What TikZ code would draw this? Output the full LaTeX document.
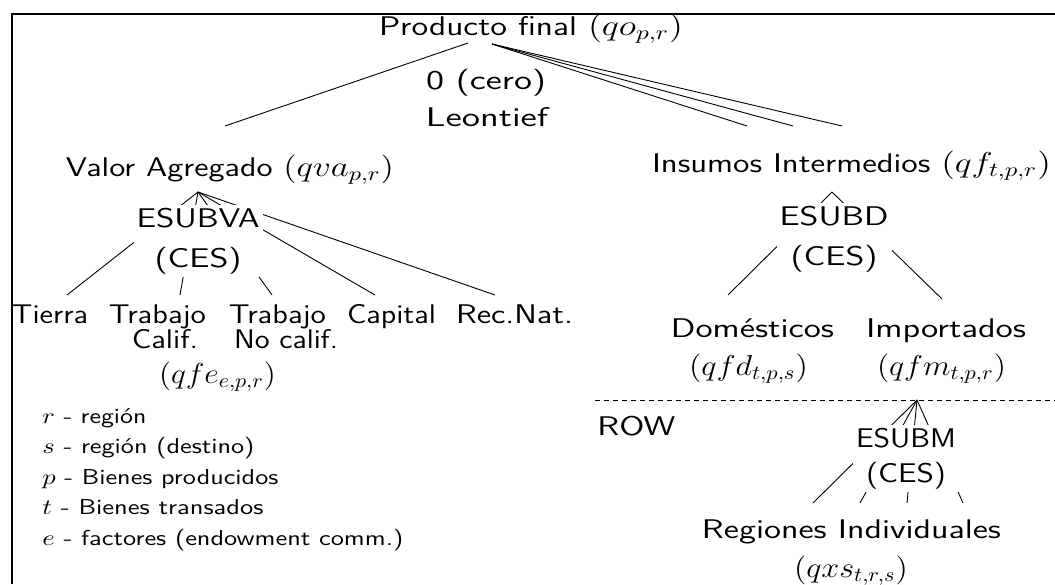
\documentclass[tikz,border=0pt]{standalone}
\usepackage{fontspec}
\usepackage{graphicx}
% set a piece of text to a given width (pt), keeping its height
\newcommand\fw[2]{\resizebox{#1pt}{\height}{#2}}
\newcommand\mth[1]{{\fontsize{14.5}{17}\selectfont$#1$}}
\begin{document}
\begin{tikzpicture}[x=0.5pt,y=-0.5pt]
\tikzset{
  lbl/.style={font=\sffamily\fontsize{13.5}{20}\selectfont, inner sep=0pt, anchor=base},
  boxlbl/.style={font=\sffamily\fontsize{13.5}{20}\selectfont, fill=white, inner sep=1.5pt, align=center},
  boxlblb/.style={font=\sffamily\fontsize{13.5}{17.5}\selectfont, fill=white, inner sep=1.5pt, align=center},
  leg/.style={font=\sffamily\fontsize{10.8}{13}\selectfont, inner sep=0pt, anchor=base west},
  link/.style={line width=0.45pt},
  frame/.style={line width=1pt},
  sep/.style={line width=0.45pt, dash pattern=on 2.5pt off 2pt}
}
\useasboundingbox (0,0) rectangle (1055,584);
\fill[white] (0,0) rectangle (1055,584);
\draw[frame] (1055,14.3) -- (11.7,14.3) -- (11.7,584);
% coordinates of connector ends
\coordinate (pfL) at (468,43);
\coordinate (pfR) at (492,44);
\coordinate (vaTop) at (225,126);
\coordinate (iiTopA) at (747,126);
\coordinate (iiTopB) at (793,126);
\coordinate (iiTopC) at (842,126);
\coordinate (vaApex) at (198,192);
\coordinate (fTierra) at (67,295);
\coordinate (fCalif) at (180,295);
\coordinate (fNoCalif) at (272,295);
\coordinate (fCapital) at (375,295);
\coordinate (fRecNat) at (495,295);
\coordinate (iiApex) at (832,192);
\coordinate (domTop) at (728,295);
\coordinate (impTop) at (942,299);
\coordinate (rowL) at (595,400);
\coordinate (rowR) at (1055,400);
\coordinate (mApex) at (917,400);
\coordinate (regA) at (813,503);
\coordinate (regB) at (860,503);
\coordinate (regC) at (907,503);
\coordinate (regD) at (963,503);
% connectors
\draw[link] (pfL) -- (vaTop);
\draw[link] (pfR) -- (iiTopA);
\draw[link] (pfR) -- (iiTopB);
\draw[link] (pfR) -- (iiTopC);
\foreach \t in {fTierra,fCalif,fNoCalif,fCapital,fRecNat} \draw[link] (vaApex) -- (\t);
\draw[link] (iiApex) -- (domTop);
\draw[link] (iiApex) -- (impTop);
\draw[sep] (rowL) -- (rowR);
\foreach \t in {regA,regB,regC,regD} \draw[link] (mApex) -- (\t);
% nodes
\node[lbl] (pf) at (531,35) {\fw{152}{Producto final \mth{(qo_{p,r})}}};
\node[lbl] (cero) at (486,89) {\fw{60}{0 (cero)}};
\node[lbl] (leon) at (487,126) {\fw{61}{Leontief}};
\node[lbl] (va) at (230,176) {\fw{164}{Valor Agregado \mth{(qva_{p,r})}}};
\node[boxlbl] (esubva) at (198,241) {\fw{61.5}{ESUBVA}\\\fw{43.5}{(CES)}};
\node[lbl] (tierra) at (50,323) {\fw{38}{Tierra}};
\node[lbl] (trab1) at (157.5,323) {\fw{48.5}{Trabajo}};
\node[lbl] (calif) at (165,348) {\fw{33}{Calif.}};
\node[lbl] (trab2) at (277.5,323) {\fw{48.5}{Trabajo}};
\node[lbl] (nocalif) at (286,348) {\fw{52}{No calif.}};
\node[lbl] (capital) at (391.5,323) {\fw{44.5}{Capital}};
\node[lbl] (recnat) at (514.5,323) {\fw{58.5}{Rec.Nat.}};
\node[lbl] (qfe) at (217.5,383) {\fw{58.5}{\mth{(qfe_{e,p,r})}}};
\node[leg] (l1) at (42,423) {\fw{52}{$r$ - región}};
\node[leg] (l2) at (42,453) {\fw{106}{$s$ - región (destino)}};
\node[leg] (l3) at (42,484) {\fw{118}{$p$ - Bienes producidos}};
\node[leg] (l4) at (42,514) {\fw{110.5}{$t$ - Bienes transados}};
\node[leg] (l5) at (42,545) {\fw{180.5}{$e$ - factores (endowment comm.)}};
\node[lbl] (ii) at (851.5,172) {\fw{199.5}{Insumos Intermedios \mth{(qf_{t,p,r})}}};
\node[boxlbl] (esubd) at (834,239) {\fw{54.5}{ESUBD}\\\fw{43.5}{(CES)}};
\node[lbl] (dom) at (752.5,337) {\fw{81.5}{Domésticos}};
\node[lbl] (qfd) at (748.5,375) {\fw{59.5}{\mth{(qfd_{t,p,s})}}};
\node[lbl] (imp) at (946,337) {\fw{80}{Importados}};
\node[lbl] (qfm) at (941.5,375) {\fw{64.5}{\mth{(qfm_{t,p,r})}}};
\node[lbl, anchor=base west] (row) at (597,435) {\fw{39}{ROW}};
\node[boxlblb] (esubm) at (906,458.5) {\fw{50}{ESUBM}\\\fw{40}{(CES)}};
\node[lbl] (reg) at (851.5,538) {\fw{149.5}{Regiones Individuales}};
\node[lbl] (qxs) at (851,577) {\fw{57}{\mth{(qxs_{t,r,s})}}};
\end{tikzpicture}
\end{document}
